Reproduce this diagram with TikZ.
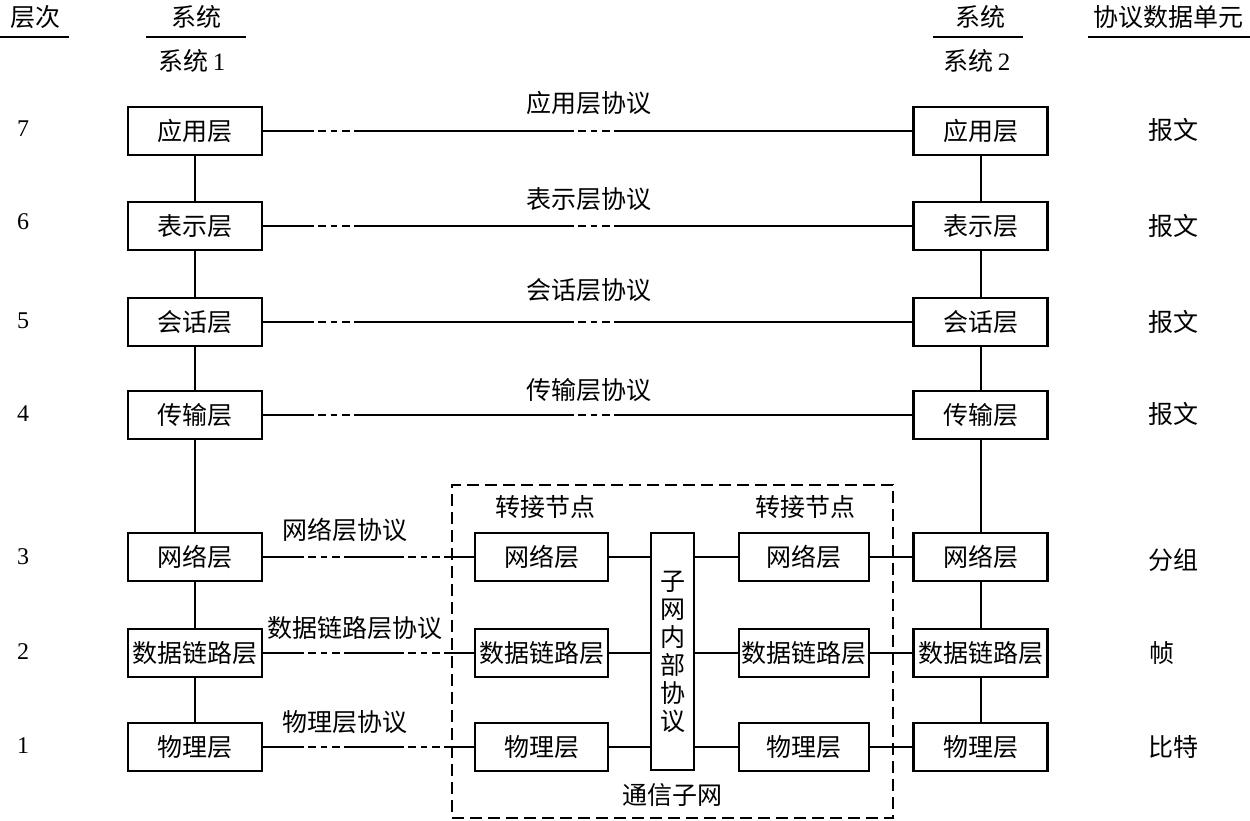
\documentclass[tikz,border=0pt]{standalone}
\usepackage{fontspec}
\setmainfont{Noto Sans CJK SC}
\newfontfamily\num{Liberation Serif}
\begin{document}
\begin{tikzpicture}[x=1pt,y=-1pt,
  box/.style={draw, line width=2.2pt, minimum width=134pt, minimum height=48pt, inner sep=0pt, font=\fontsize{25}{25}\selectfont},
  mbox/.style={box, minimum width=132pt},
  lbl/.style={inner sep=0pt, font=\fontsize{25}{25}\selectfont},
  numl/.style={inner sep=0pt, font=\num\fontsize{24}{24}\selectfont},
  ln/.style={line width=2pt},
  upper/.style={ln, dash pattern=on 51pt off 4pt on 8pt off 5pt on 6pt off 5pt on 8pt off 4pt on 220pt off 4pt on 8pt off 5pt on 6pt off 5pt on 8pt off 4pt on 400pt off 1pt},
  lower/.style={ln, dash pattern=on 41pt off 4pt on 8pt off 5pt on 6pt off 5pt on 8pt off 4pt on 60pt off 4pt on 8pt off 5pt on 6pt off 5pt on 8pt off 4pt on 200pt off 1pt}
]
\useasboundingbox (0,0) rectangle (1250,821);

% headers
\node[lbl] (hlayer) at (35,17) {层次};
\node[lbl] (hsys1) at (196,17) {系统};
\node[lbl] (sys1) at (192,61) {系统\,{\num 1}};
\node[lbl] (hsys2) at (980,17) {系统};
\node[lbl] (sys2) at (977,61) {系统\,{\num 2}};
\node[lbl] (hpdu) at (1168,17) {协议数据单元};
\draw[ln] (0,37) -- (69,37);
\draw[ln] (146,37) -- (246,37);
\draw[ln] (933,37) -- (1023,37);
\draw[ln] (1088,37) -- (1250,37);

% layer numbers
\foreach \n/\y in {7/129,6/222,5/321,4/414,3/557,2/652,1/746}
  \node[numl] (n\n) at (23,\y) {\n};

% end systems
\foreach \n/\t/\y in {7/应用层/131,6/表示层/226,5/会话层/322,4/传输层/415,3/网络层/557,2/数据链路层/653,1/物理层/747}{
  \node[box] (L\n) at (195,\y) {\t};
  \node[box] (R\n) at (980.5,\y) {\t};
}

% PDUs
\node[lbl] (u7) at (1173,130) {报文};
\node[lbl] (u6) at (1173,226) {报文};
\node[lbl] (u5) at (1173,322) {报文};
\node[lbl] (u4) at (1173,414) {报文};
\node[lbl] (u3) at (1173,560) {分组};
\node[lbl] (u2) at (1162,653) {帧};
\node[lbl] (u1) at (1173,747) {比特};

% vertical links
\foreach \a/\b in {7/6,6/5,5/4,4/3,3/2,2/1}{
  \draw[ln] (L\a) -- (L\b);
  \draw[ln] (R\a) -- (R\b);
}

% subnet
\node[draw, line width=2pt, dash pattern=on 12pt off 6pt, minimum width=441pt, minimum height=333pt, inner sep=0pt] (net) at (672.5,651.5) {};
\node[draw, line width=2.2pt, minimum width=43pt, minimum height=237pt, inner sep=0pt, align=center, font=\fontsize{25}{28}\selectfont] (V) at (672.5,651.5) {子\\网\\内\\部\\协\\议};
\foreach \n/\t/\y in {3/网络层/557,2/数据链路层/653,1/物理层/747}{
  \node[box, minimum width=133pt] (ML\n) at (541.5,\y) {\t};
  \node[mbox, minimum width=130pt] (MR\n) at (804,\y) {\t};
  \draw[lower] (L\n) -- (ML\n);
  \draw[ln] (ML\n.east) -- (ML\n.east -| V.west);
  \draw[ln] (MR\n.west -| V.east) -- (MR\n.west);
  \draw[ln] (MR\n) -- (R\n);
}
\node[lbl] (sw1) at (545,507) {转接节点};
\node[lbl] (sw2) at (805,507) {转接节点};
\node[lbl] (comm) at (672,795) {通信子网};

% peer protocols
\foreach \n in {7,6,5,4}
  \draw[upper] (L\n) -- (R\n);
\node[lbl] (p7) at (589,103) {应用层协议};
\node[lbl] (p6) at (589,199) {表示层协议};
\node[lbl] (p5) at (589,290) {会话层协议};
\node[lbl] (p4) at (589,390) {传输层协议};
\node[lbl] (p3) at (345,530) {网络层协议};
\node[lbl] (p2) at (355,628) {数据链路层协议};
\node[lbl] (p1) at (345,722) {物理层协议};
\end{tikzpicture}
\end{document}
